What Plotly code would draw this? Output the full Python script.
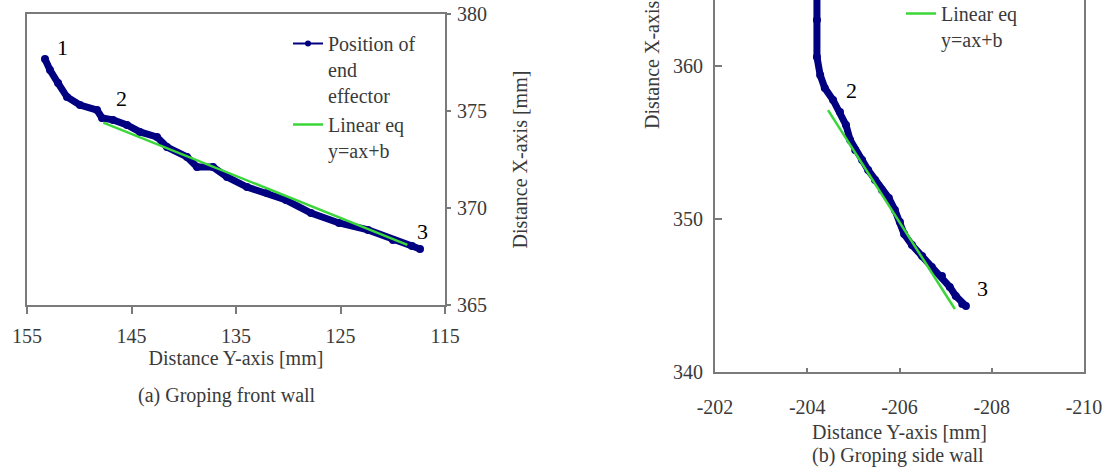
import plotly.graph_objects as go

W, H = 1104, 468

# ---------------- data: panel (a) Groping front wall ----------------
a_pos_ydist = [153.28, 152.80, 152.03, 151.17, 149.93, 148.30, 147.82, 146.77, 145.43,
               144.19, 142.56, 141.60, 139.69, 138.73, 137.20, 135.86, 133.95, 132.03,
               130.22, 127.82, 125.14, 122.37, 119.98, 118.16, 117.39]
a_pos_xdist = [377.68, 377.11, 376.44, 375.72, 375.31, 375.05, 374.64, 374.54, 374.28,
               373.92, 373.66, 373.14, 372.63, 372.11, 372.11, 371.60, 371.08, 370.77,
               370.41, 369.74, 369.23, 368.87, 368.35, 368.04, 367.89]
a_fit_ydist = [147.7, 118.6]
a_fit_xdist = [374.4, 368.1]

# ---------------- data: panel (b) Groping side wall ----------------
b_pos_ydist = [-204.21, -204.21, -204.21, -204.28, -204.38, -204.56, -204.71, -204.84,
               -204.93, -205.04, -205.19, -205.32, -205.47, -205.62, -205.77, -205.90,
               -206.01, -206.10, -206.27, -206.49, -206.70, -206.92, -207.09, -207.22,
               -207.36, -207.44]
b_pos_xdist = [365.29, 363.01, 360.59, 359.41, 358.56, 357.78, 356.99, 356.14, 355.16,
               354.51, 353.86, 353.20, 352.55, 351.90, 351.37, 350.59, 349.80, 349.02,
               348.30, 347.58, 346.86, 346.27, 345.56, 344.97, 344.44, 344.31]
b_fit_ydist = [-204.45, -207.20]
b_fit_xdist = [357.12, 344.12]

# ---------------- ticks / labels ----------------
a_xticks = [155, 145, 135, 125, 115]
a_yticks = [365, 370, 375, 380]
b_xticks = [-202, -204, -206, -208, -210]
b_yticks = [340, 350, 360]

a_points = {"1": (151.65, 378.25), "2": (145.91, 375.62), "3": (117.2, 368.8)}
b_points = {"2": (-204.97, 358.37), "3": (-207.79, 345.49)}

name_pos = "Position of<br>end<br>effector"
name_fit = "Linear eq<br>y=ax+b"

BLUE = "#000080"
GREEN = "#3ad63a"
FRAME = "#7a7a7a"
TXT = "#3a3a3a"
FONT = "Liberation Serif"

def px2fx(px):
    return px / W

def py2fy(py):
    return (H - py) / H

fig = go.Figure()

# panel a
fig.add_trace(go.Scatter(x=a_pos_ydist, y=a_pos_xdist, mode="lines+markers",
                         line=dict(color=BLUE, width=7), marker=dict(color=BLUE, size=8),
                         showlegend=False, xaxis="x", yaxis="y", name=name_pos))
fig.add_trace(go.Scatter(x=a_fit_ydist, y=a_fit_xdist, mode="lines",
                         line=dict(color=GREEN, width=2.5), xaxis="x", yaxis="y",
                         name=name_fit, legend="legend", legendrank=2))
# legend key for the position series (thin line with marker, like the original key)
fig.add_trace(go.Scatter(x=[None], y=[None], mode="lines+markers",
                         line=dict(color=BLUE, width=2), marker=dict(color=BLUE, size=6),
                         xaxis="x", yaxis="y", name=name_pos, legend="legend", legendrank=1))

# panel b
fig.add_trace(go.Scatter(x=b_pos_ydist, y=b_pos_xdist, mode="lines+markers",
                         line=dict(color=BLUE, width=7), marker=dict(color=BLUE, size=8),
                         showlegend=False, xaxis="x2", yaxis="y2", name=name_pos))
fig.add_trace(go.Scatter(x=b_fit_ydist, y=b_fit_xdist, mode="lines",
                         line=dict(color=GREEN, width=2.5), xaxis="x2", yaxis="y2",
                         name=name_fit, legend="legend2"))

tickfont = dict(family=FONT, size=20, color=TXT)
titlefont = dict(family=FONT, size=20, color=TXT)

axis_common = dict(showgrid=False, zeroline=False, showline=True, linecolor=FRAME,
                   linewidth=2, tickcolor=FRAME, tickfont=tickfont)

annotations = []
for k, (x, y) in a_points.items():
    annotations.append(dict(x=x, y=y, xref="x", yref="y", text=k, showarrow=False,
                            font=dict(family=FONT, size=22, color="black")))
for k, (x, y) in b_points.items():
    annotations.append(dict(x=x, y=y, xref="x2", yref="y2", text=k, showarrow=False,
                            font=dict(family=FONT, size=22, color="black")))

annotations.append(dict(x=px2fx(227), y=py2fy(395), xref="paper", yref="paper",
                        text="(a) Groping front wall", showarrow=False,
                        font=titlefont, xanchor="center", yanchor="middle"))
annotations.append(dict(x=px2fx(898), y=py2fy(455), xref="paper", yref="paper",
                        text="(b) Groping side wall", showarrow=False,
                        font=titlefont, xanchor="center", yanchor="middle"))
annotations.append(dict(x=px2fx(652), y=py2fy(40), xref="paper", yref="paper",
                        text="Distance X-axis [mm]", showarrow=False, textangle=-90,
                        font=titlefont, xanchor="center", yanchor="middle"))

fig.update_layout(
    width=W, height=H,
    margin=dict(l=0, r=0, t=0, b=0, autoexpand=False),
    paper_bgcolor="white", plot_bgcolor="white",
    hovermode=False,
    font=dict(family=FONT, size=20, color=TXT),
    xaxis=dict(domain=[px2fx(27), px2fx(445)], range=[155, 115], tickvals=a_xticks,
               ticks="outside", ticklen=7, tickwidth=2, mirror=True, anchor="y",
               ticklabelstandoff=5,
               title=dict(text="Distance Y-axis [mm]", font=titlefont, standoff=1),
               **axis_common),
    yaxis=dict(domain=[py2fy(305), py2fy(14)], range=[365, 380], tickvals=a_yticks,
               side="right", ticks="outside", ticklen=4, tickwidth=2, mirror=True,
               anchor="x", ticklabelstandoff=2,
               title=dict(text="Distance X-axis [mm]", font=titlefont, standoff=27),
               **axis_common),
    xaxis2=dict(domain=[px2fx(715), px2fx(1084)], range=[-202, -210], tickvals=b_xticks,
                ticktext=[str(v) for v in b_xticks],
                ticks="inside", ticklen=4, tickwidth=2, mirror=False, anchor="y2",
                ticklabelstandoff=16,
                title=dict(text="Distance Y-axis [mm]", font=titlefont, standoff=8),
                **axis_common),
    yaxis2=dict(domain=[py2fy(372), 1.0], range=[340, 340 + 372 / 15.3], tickvals=b_yticks,
                ticks="inside", ticklen=7, tickwidth=2, mirror=True, anchor="x2",
                ticklabelstandoff=6,
                **axis_common),
    legend=dict(x=px2fx(288), y=py2fy(24), xanchor="left", yanchor="top",
                bgcolor="rgba(0,0,0,0)", borderwidth=0, valign="top",
                font=dict(family=FONT, size=20, color=TXT), tracegroupgap=0),
    legend2=dict(x=px2fx(901), y=py2fy(-6), xanchor="left", yanchor="top",
                 bgcolor="rgba(0,0,0,0)", borderwidth=0, valign="top",
                 font=dict(family=FONT, size=20, color=TXT)),
    annotations=annotations,
)

fig.write_html(
    "out.html",
    config={"displayModeBar": False},
    post_script="document.body.style.margin='0';document.body.style.overflow='hidden';",
)
